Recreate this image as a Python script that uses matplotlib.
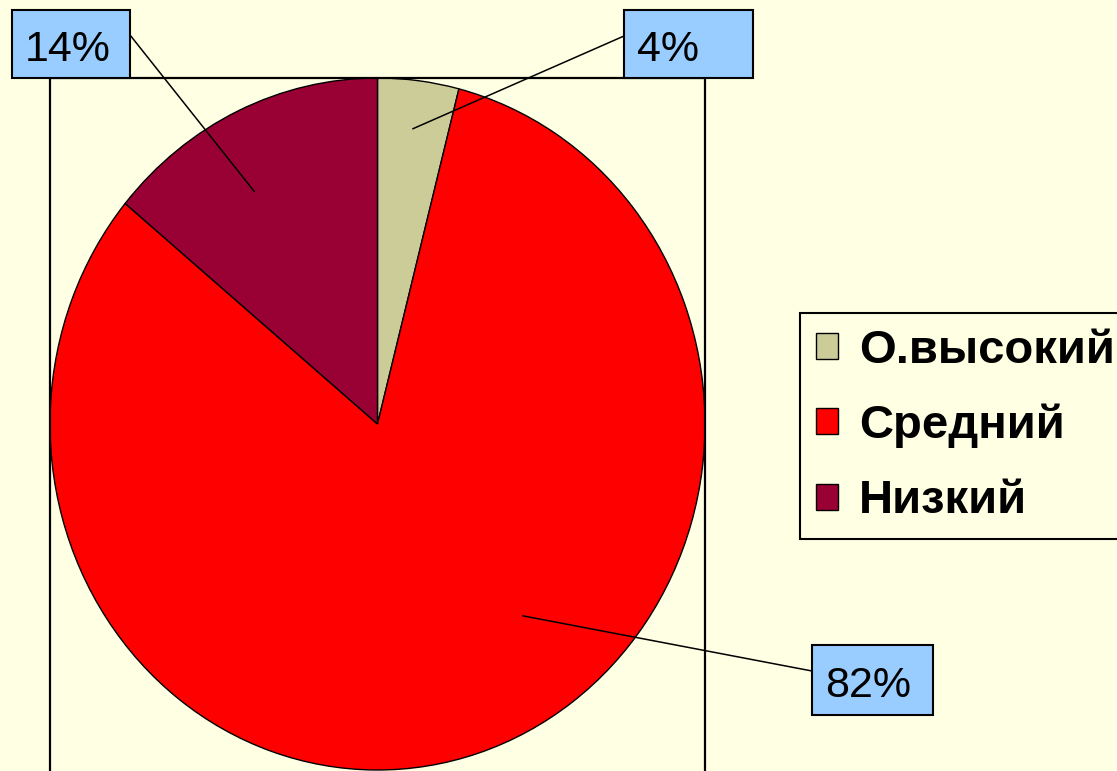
import numpy as np
import matplotlib
matplotlib.use("Agg")
import matplotlib.pyplot as plt
from matplotlib.patches import Patch, Rectangle, ConnectionPatch

# data
labels = ["О.высокий", "Средний", "Низкий"]
values = [4, 82, 14]
colors = ["#CCCC99", "#FF0000", "#990033"]
pct_labels = ["4%", "82%", "14%"]

BG = "#FFFFE3"
W, H = 1117, 771

# label boxes in pixels from top-left: (x, y, w, h), line attach point, anchor (frac along wedge, radius)
boxes = [(624, 10, 129, 68), (812, 645, 121, 70), (12, 10, 118, 68)]
attach = [(624, 36), (812, 671), (130, 35)]
anchors = [(0.5, 0.86), (0.43, 0.71), (0.42, 0.77)]

plt.rcParams['font.family'] = ['Liberation Sans', 'DejaVu Sans']

fig = plt.figure(figsize=(W / 100, H / 100), dpi=100, facecolor=BG)
ax = fig.add_axes([50 / W, 0, 655 / W, (H - 78) / H])
ax.set_facecolor("none")

wedges, _ = ax.pie(values, colors=colors, startangle=90, counterclock=False,
                   wedgeprops=dict(edgecolor="black", linewidth=1.0))
ax.set_aspect("auto")
ax.set_xlim(-1, 1)
ax.set_ylim(-347 / 346, 1)
ax.set_frame_on(True)
for s in ["left", "top", "right"]:
    ax.spines[s].set_visible(True)
    ax.spines[s].set_linewidth(1.6)
    ax.spines[s].set_color("black")
ax.spines["bottom"].set_visible(False)
ax.set_xticks([])
ax.set_yticks([])

for w, txt, (bx, by, bw, bh), (px, py), (frac, r) in zip(wedges, pct_labels, boxes, attach, anchors):
    t1, t2 = w.theta1, w.theta2
    ang = np.deg2rad(t2 - frac * (t2 - t1))
    xy = (r * np.cos(ang), r * np.sin(ang))
    con = ConnectionPatch(xyA=xy, coordsA=ax.transData,
                          xyB=(px, H - py), coordsB="figure pixels",
                          color="black", linewidth=1.1, zorder=5)
    fig.add_artist(con)
    rect = Rectangle((bx / W, 1 - (by + bh) / H), bw / W, bh / H,
                     transform=fig.transFigure, facecolor="#99CCFF",
                     edgecolor="black", linewidth=1.5, zorder=6)
    fig.add_artist(rect)
    fig.text((bx + 13) / W, 1 - (by + bh / 2 + 6) / H, txt, fontsize=31,
             ha="left", va="center", zorder=7)

handles = [Patch(facecolor=c, edgecolor="black", linewidth=1.0) for c in colors]
leg = fig.legend(handles, labels, loc="upper left",
                 bbox_to_anchor=(800 / W, 1 - 313 / H),
                 prop=dict(weight="bold", size=34),
                 handlelength=0.47, handleheight=0.47, handletextpad=0.45,
                 labelspacing=0.66, borderpad=0.33, borderaxespad=0,
                 fancybox=False, facecolor=BG, edgecolor="black", framealpha=1)
leg.get_frame().set_linewidth(1.5)

fig.savefig("out.png", dpi=100, facecolor=BG)
